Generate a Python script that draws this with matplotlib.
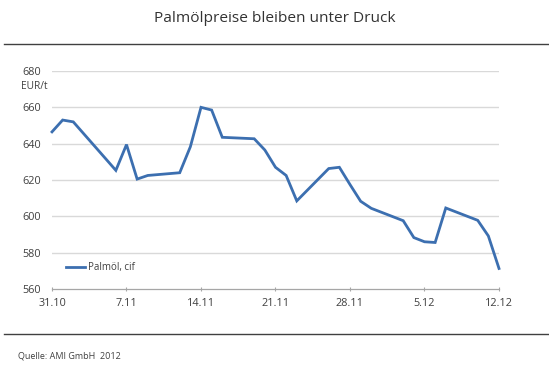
import matplotlib
matplotlib.use("Agg")
import matplotlib.pyplot as plt
import matplotlib.dates as mdates
import pandas as pd

plt.rcParams['font.family'] = ['Open Sans', 'DejaVu Sans']

dates = ["2012-10-31", "2012-11-01", "2012-11-02", "2012-11-05", "2012-11-06",
         "2012-11-07", "2012-11-08", "2012-11-09", "2012-11-12", "2012-11-13",
         "2012-11-14", "2012-11-15", "2012-11-16", "2012-11-19", "2012-11-20",
         "2012-11-21", "2012-11-22", "2012-11-23", "2012-11-26", "2012-11-27",
         "2012-11-28", "2012-11-29", "2012-11-30", "2012-12-03", "2012-12-04",
         "2012-12-05", "2012-12-06", "2012-12-07", "2012-12-10", "2012-12-11",
         "2012-12-12"]
prices = [646.5, 653, 652, 632, 625.3,
          639.5, 620.5, 622.5, 624, 638.3,
          660, 658.5, 643.5, 642.7, 636.5,
          627, 622.5, 608.5, 626.3, 627,
          617.5, 608.3, 604.4, 597.6, 588.3,
          586, 585.6, 604.6, 597.8, 589.2,
          571.3]
tick_dates = ["2012-10-31", "2012-11-07", "2012-11-14", "2012-11-21",
              "2012-11-28", "2012-12-05", "2012-12-12"]
tick_labels = ["31.10", "7.11", "14.11", "21.11", "28.11", "5.12", "12.12"]
y_ticks = [560, 580, 600, 620, 640, 660, 680]

title = "Palmölpreise bleiben unter Druck"
series_name = "Palmöl, cif"
unit = "EUR/t"
source = "Quelle: AMI GmbH  2012"

x = pd.to_datetime(dates)
xt = pd.to_datetime(tick_dates)

W, H = 549, 372
fig = plt.figure(figsize=(W / 100, H / 100), dpi=100)
ax = fig.add_axes([52 / W, 1 - 289 / H, (499 - 52) / W, (289 - 71) / H])

text_col = "#404040"
grid_col = "#d9d9d9"
line_col = "#3c6fb0"

ax.plot(x, prices, color=line_col, lw=2.0, solid_joinstyle="miter", label=series_name,
        clip_on=False)
ax.set_xlim(xt[0], xt[-1])
ax.set_ylim(560, 680)
ax.set_yticks(y_ticks)
ax.set_xticks(xt)
ax.set_xticklabels(tick_labels)

for v in y_ticks[1:]:
    ax.axhline(v, color=grid_col, lw=1.0, zorder=0)

for s in ["top", "right", "left"]:
    ax.spines[s].set_visible(False)
ax.spines["bottom"].set_color("#a6a6a6")
ax.spines["bottom"].set_linewidth(0.9)

ax.tick_params(axis="y", length=0, pad=8, labelsize=7.8, labelcolor=text_col)
ax.tick_params(axis="x", length=3.5, width=0.8, color="#a6a6a6", direction="inout",
               pad=5, labelsize=7.8, labelcolor=text_col)

ax.text(-0.07, (670 - 560) / 120 + 0.012, unit, transform=ax.transAxes, ha="left", va="center",
        fontsize=7.3, color=text_col)

leg = ax.legend(loc="lower left", frameon=False,
                fontsize=7.0, handlelength=2.0, handletextpad=0.3,
                borderaxespad=0.0)
leg.set_bbox_to_anchor((10 / (499 - 52), 0.055), transform=ax.transAxes)
for t in leg.get_texts():
    t.set_color(text_col)

fig.text(0.5, 1 - 19 / H, title, ha="center", va="center", fontsize=11.1, color="#333333")
fig.add_artist(plt.Line2D([4 / W, 1.0], [1 - 44 / H] * 2, color="#404040", lw=1.0,
                          transform=fig.transFigure))
fig.add_artist(plt.Line2D([4 / W, 1.0], [1 - 333.5 / H] * 2, color="#404040", lw=1.0,
                          transform=fig.transFigure))
fig.text(18 / W, 1 - 355.5 / H, source, ha="left", va="center", fontsize=6.5, color=text_col)

fig.savefig("out.png", dpi=100)
